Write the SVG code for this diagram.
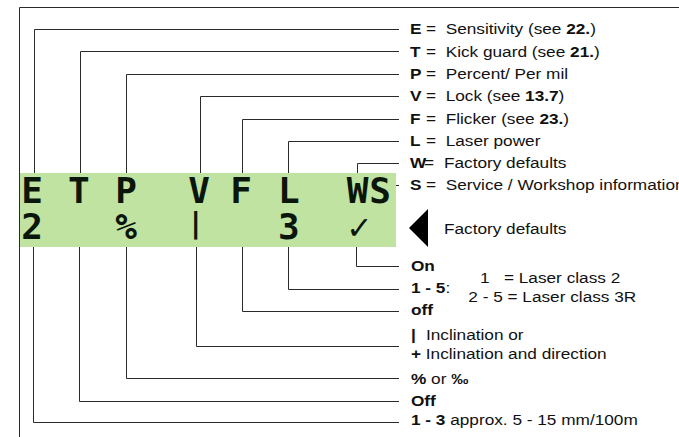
<svg xmlns="http://www.w3.org/2000/svg" width="679" height="437" viewBox="0 0 679 437">
<style>
.ln{fill:none;stroke:#2a2a2a;stroke-width:1}
.lcd{font-family:"DejaVu Sans Mono","DejaVu Sans",monospace;font-weight:bold;font-size:36px;fill:#0b160b;text-anchor:middle}
.t{font-family:"Liberation Sans",Arial,sans-serif;font-size:14px;fill:#111}
.b{font-weight:bold}
</style>
<rect width="679" height="437" fill="#ffffff"/>
<g id="frame"><path class="ln" d="M19.5 437 V7.5 H679"/></g>
<g id="lcd-display">
<rect x="20" y="173" width="376" height="74" fill="#c0e3a2"/>
<text class="lcd" x="32.2" y="203.3">E</text>
<text class="lcd" x="78.8" y="203.3">T</text>
<text class="lcd" x="126" y="203.3">P</text>
<text class="lcd" x="199" y="203.3">V</text>
<text class="lcd" x="241.2" y="203.3">F</text>
<text class="lcd" x="288.8" y="203.3">L</text>
<text class="lcd" x="357.5" y="203.3">W</text>
<text class="lcd" x="380" y="203.3">S</text>
<text class="lcd" x="32.2" y="239">2</text>
<text class="lcd" x="126" y="239">%</text>
<text class="lcd" x="195.7" y="233" style="font-size:28px">|</text>
<text class="lcd" x="288.8" y="239">3</text>
<text class="lcd" x="359" y="239">✓</text>
</g>
<g id="connectors">
<path class="ln" d="M34.5 173 V29.5 H399"/>
<path class="ln" d="M80.5 173 V51.5 H399"/>
<path class="ln" d="M126.5 173 V74.5 H399"/>
<path class="ln" d="M200.5 173 V96.5 H399"/>
<path class="ln" d="M242.5 173 V119.5 H399"/>
<path class="ln" d="M288.5 173 V141.5 H399"/>
<path class="ln" d="M357.5 173 V163.5 H399"/>
<path class="ln" d="M396 185.5 H399"/>
<path class="ln" d="M33.5 247 V422.5 H399"/>
<path class="ln" d="M79.5 247 V401.5 H399"/>
<path class="ln" d="M126.5 247 V378.5 H399"/>
<path class="ln" d="M196.5 247 V346.5 H399"/>
<path class="ln" d="M242.5 247 V311.5 H399"/>
<path class="ln" d="M288.5 247 V289.5 H399"/>
<path class="ln" d="M356.5 247 V266.5 H399"/>
</g>
<g id="default-marker"><polygon points="409,228 428,209 428,247" fill="#000"/></g>
<g id="labels" transform="translate(410 0) scale(1.23 1)">
<g id="lbl-E"><text class="t" y="34.2"><tspan class="b" x="0">E</tspan><tspan x="13">=</tspan><tspan x="29">Sensitivity (see </tspan><tspan class="b">22.</tspan>)</text></g>
<g id="lbl-T"><text class="t" y="56.6"><tspan class="b" x="0">T</tspan><tspan x="13">=</tspan><tspan x="29">Kick guard (see </tspan><tspan class="b">21.</tspan>)</text></g>
<g id="lbl-P"><text class="t" y="79"><tspan class="b" x="0">P</tspan><tspan x="13">=</tspan><tspan x="29">Percent/ Per mil</tspan></text></g>
<g id="lbl-V"><text class="t" y="101.5"><tspan class="b" x="0">V</tspan><tspan x="13">=</tspan><tspan x="29">Lock (see </tspan><tspan class="b">13.7</tspan>)</text></g>
<g id="lbl-F"><text class="t" y="124"><tspan class="b" x="0">F</tspan><tspan x="13">=</tspan><tspan x="29">Flicker (see </tspan><tspan class="b">23.</tspan>)</text></g>
<g id="lbl-L"><text class="t" y="146.5"><tspan class="b" x="0">L</tspan><tspan x="13">=</tspan><tspan x="29">Laser power</tspan></text></g>
<g id="lbl-W"><text class="t" y="168.3"><tspan class="b" x="0">W</tspan><tspan x="11.4">=</tspan><tspan x="27.6">Factory defaults</tspan></text></g>
<g id="lbl-S"><text class="t" y="190.5"><tspan class="b" x="0">S</tspan><tspan x="13">=</tspan><tspan x="29">Service / Workshop information</tspan></text></g>
<g id="lbl-factory"><text class="t" x="27.6" y="234">Factory defaults</text></g>
<g id="lbl-on"><text class="t b" x="0.8" y="271">On</text></g>
<g id="lbl-15"><text class="t" x="0.8" y="293.5"><tspan class="b">1 - 5</tspan>:</text></g>
<g id="lbl-off"><text class="t b" x="0.8" y="315.5">off</text></g>
<g id="lbl-class"><text class="t" y="283.3"><tspan x="56.9">1</tspan><tspan x="76.4">= Laser class 2</tspan></text><text class="t" x="47.4" y="302.3">2 - 5 = Laser class 3R</text></g>
<g id="lbl-incl"><text class="t" y="340"><tspan class="b" x="0.8">|</tspan><tspan x="13">Inclination or</tspan></text><text class="t" x="0.8" y="359"><tspan class="b">+</tspan> Inclination and direction</text></g>
<g id="lbl-pct"><text class="t" x="0.8" y="384"><tspan class="b">%</tspan> or <tspan class="b">‰</tspan></text></g>
<g id="lbl-Off"><text class="t b" x="0.8" y="405.7">Off</text></g>
<g id="lbl-13"><text class="t" x="0.8" y="425"><tspan class="b">1 - 3</tspan> approx. 5 - 15 mm/100m</text></g>
</g>
</svg>
